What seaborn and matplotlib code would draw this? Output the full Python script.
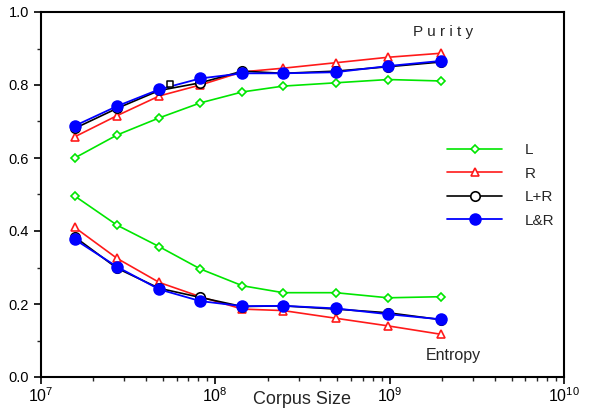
import matplotlib
matplotlib.use("Agg")
import matplotlib.pyplot as plt
import seaborn as sns
from matplotlib.ticker import LogLocator, MultipleLocator

# --- data ---
corpus_size = [1.56e7, 2.73e7, 4.77e7, 8.2e7, 1.43e8, 2.45e8, 4.9e8, 9.8e8, 1.97e9]

purity_L = [0.600, 0.663, 0.710, 0.751, 0.781, 0.797, 0.806, 0.815, 0.811]
purity_R = [0.658, 0.716, 0.770, 0.800, 0.836, 0.846, 0.861, 0.876, 0.887]
purity_LpR = [0.681, 0.736, 0.785, 0.806, 0.838, 0.832, 0.838, 0.850, 0.863]
purity_LaR = [0.688, 0.742, 0.788, 0.818, 0.832, 0.832, 0.835, 0.852, 0.866]

entropy_L = [0.496, 0.416, 0.357, 0.296, 0.250, 0.231, 0.231, 0.217, 0.220]
entropy_R = [0.410, 0.325, 0.259, 0.220, 0.186, 0.182, 0.161, 0.140, 0.117]
entropy_LpR = [0.384, 0.298, 0.243, 0.218, 0.193, 0.195, 0.186, 0.176, 0.157]
entropy_LaR = [0.377, 0.302, 0.240, 0.208, 0.194, 0.195, 0.188, 0.172, 0.158]

stray_x = [5.5e7]
stray_y = [0.802]

series = [
    ("L", purity_L, entropy_L, "#00e600", "D", 3.6, "white", 1.2),
    ("R", purity_R, entropy_R, "#ff1a1a", "^", 5.2, "white", 1.2),
    ("L+R", purity_LpR, entropy_LpR, "black", "o", 6.8, "white", 1.2),
    ("L&R", purity_LaR, entropy_LaR, "#0000ff", "o", 7.8, "#0000ff", 1.3),
]

sns.set_style("ticks")
plt.rcParams["font.family"] = ["Liberation Sans", "DejaVu Sans"]

fig = plt.figure(figsize=(5.89, 4.12), dpi=100)
ax = fig.add_axes([41 / 589, 1 - 377 / 412, (564 - 41) / 589, (377 - 12) / 412])

for name, pur, ent, color, mk, ms, mfc, lw in series:
    sns.lineplot(x=corpus_size, y=pur, ax=ax, color=color, marker=mk, markersize=ms,
                 markerfacecolor=mfc, markeredgecolor=color, markeredgewidth=1.2,
                 linewidth=lw, label=name)
    sns.lineplot(x=corpus_size, y=ent, ax=ax, color=color, marker=mk, markersize=ms,
                 markerfacecolor=mfc, markeredgecolor=color, markeredgewidth=1.2,
                 linewidth=lw, label=None)

sns.scatterplot(x=stray_x, y=stray_y, ax=ax, marker="s", s=22, facecolor="white",
                edgecolor="black", linewidth=1.1, zorder=2)

ax.set_xscale("log")
ax.set_xlim(1e7, 1e10)
ax.set_ylim(0.0, 1.0)
ax.yaxis.set_major_locator(MultipleLocator(0.2))
ax.yaxis.set_minor_locator(MultipleLocator(0.1))
ax.yaxis.set_major_formatter(plt.FuncFormatter(lambda v, p: f"{v:.1f}"))
ax.xaxis.set_major_locator(LogLocator(base=10, numticks=10))
ax.xaxis.set_minor_locator(LogLocator(base=10, subs=range(2, 10), numticks=50))

for side in ax.spines.values():
    side.set_linewidth(1.5)
    side.set_color("black")
ax.tick_params(axis="both", which="major", direction="out", length=5, width=1.2,
               labelsize=10.5, colors="black")
ax.tick_params(axis="x", which="major", pad=2, labelsize=11.5)
ax.tick_params(axis="both", which="minor", direction="out", length=3, width=1.0)

ax.set_xlabel("Corpus Size", fontsize=13)
ax.xaxis.set_label_coords(0.499, -0.063)
ax.xaxis.label.set_va("center")
ax.set_ylabel("")

ax.text(1.36e9, 0.945, "P u r i t y", fontsize=11, ha="left", va="center")
ax.text(1.62e9, 0.06, "Entropy", fontsize=11.5, ha="left", va="center")

leg = ax.legend(loc="center left", bbox_to_anchor=(0.75, 0.525), frameon=False,
                fontsize=11, handlelength=3.6, labelspacing=0.62, handletextpad=1.5)

fig.savefig("out.png", dpi=100)
